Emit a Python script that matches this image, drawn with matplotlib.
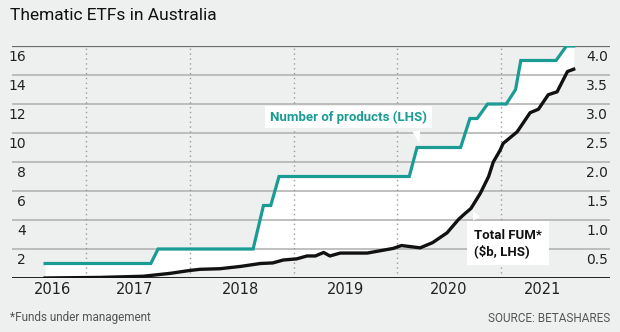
import numpy as np
import matplotlib
matplotlib.use("Agg")
import matplotlib.pyplot as plt
import matplotlib.transforms as mtransforms

# ---- data ----
prod_x = [2016.605, 2017.624, 2017.694, 2018.61, 2018.71, 2018.78, 2018.86, 2020.115, 2020.19,
          2020.61, 2020.70, 2020.77, 2020.87, 2021.05, 2021.14, 2021.19, 2021.53, 2021.63, 2021.70]
prod_n = [1, 1, 2, 2, 5, 5, 7, 7, 9, 9, 11, 11, 12, 12, 13, 15, 15, 16, 16]

fum_x = [2016.605, 2017.135, 2017.55, 2017.81, 2018.00, 2018.10, 2018.29, 2018.49, 2018.68, 2018.80,
         2018.90, 2019.03, 2019.13, 2019.21, 2019.29, 2019.35, 2019.45, 2019.71, 2019.835, 2019.96,
         2020.04, 2020.22, 2020.34, 2020.48, 2020.59, 2020.645, 2020.71, 2020.80, 2020.88, 2020.925,
         2020.99, 2021.02, 2021.155, 2021.28, 2021.36, 2021.455, 2021.54, 2021.64, 2021.70]
fum_b = [0.0, 0.01, 0.03, 0.08, 0.13, 0.15, 0.16, 0.20, 0.25, 0.26,
         0.31, 0.33, 0.38, 0.38, 0.44, 0.38, 0.43, 0.43, 0.47, 0.51,
         0.56, 0.52, 0.61, 0.78, 1.01, 1.10, 1.20, 1.46, 1.75, 2.00,
         2.20, 2.32, 2.52, 2.85, 2.91, 3.16, 3.21, 3.56, 3.60]

left_ticks = [2, 4, 6, 8, 10, 12, 14, 16]
right_ticks = [0.5, 1.0, 1.5, 2.0, 2.5, 3.0, 3.5, 4.0]
year_labels = ["2016", "2017", "2018", "2019", "2020", "2021"]
year_label_pos = [2016.68, 2017.47, 2018.49, 2019.50, 2020.49, 2021.40]
year_bounds = [2017, 2018, 2019, 2020, 2021]

TEAL = "#1a9c94"
BG = "#eeefef"
RATIO = 4.0  # left units per $b on right axis

fig = plt.figure(figsize=(6.2, 3.32), dpi=100, facecolor=BG)
ax = fig.add_axes([12/620, 1-278/332, 598/620, (278-46)/332])
ax.set_facecolor(BG)
ax.set_xlim(2016.286, 2022.05)
ax.set_ylim(0, 16)
for s in ax.spines.values():
    s.set_visible(False)
ax.set_xticks([]); ax.set_yticks([])

fum_l = np.array(fum_b) * RATIO
xg = np.union1d(prod_x, fum_x)
p_i = np.interp(xg, prod_x, prod_n)
f_i = np.interp(xg, fum_x, fum_l)
ax.fill_between(xg, f_i, p_i, color="white", lw=0, zorder=1)

for v in left_ticks[:-1]:
    ax.axhline(v, color="#b4b4b4", lw=1.2, zorder=2)
ax.axhline(16, color="#6a6a6a", lw=1.6, zorder=2)
for yb in year_bounds:
    ax.plot([yb, yb], [0, 16], color="#9a9a9a", lw=1.0, ls=(0, (1, 2.5)), zorder=2)
ax.axhline(0, color="#111111", lw=1.3, zorder=5)

ax.plot(prod_x, prod_n, color=TEAL, lw=2.3, zorder=4, solid_joinstyle="miter")
ax.plot(fum_x, fum_l, color="#111111", lw=2.4, zorder=4)

trans = mtransforms.blended_transform_factory(ax.transAxes, ax.transData)
for v in left_ticks:
    ax.text(14/598, v - 0.78, str(v), transform=trans, ha="right", va="center",
            fontsize=10, color="#222222", family="DejaVu Sans")
for v in right_ticks:
    ax.text(596/598, v*RATIO - 0.78, f"{v:.1f}", transform=trans, ha="right", va="center",
            fontsize=10, color="#222222", family="DejaVu Sans")

for lab, xp in zip(year_labels, year_label_pos):
    ax.text(xp, -0.8, lab, ha="center", va="center", fontsize=10.5, color="#222222",
            family="DejaVu Sans")

ax.annotate("Number of products (LHS)", xy=(2020.22, 9.1), xytext=(2019.53, 11.1),
            ha="center", va="center", fontsize=9.5, fontweight="bold", color=TEAL,
            family=["Roboto", "DejaVu Sans"],
            bbox=dict(boxstyle="square,pad=0.35", fc="white", ec="none"),
            arrowprops=dict(arrowstyle="wedge,tail_width=0.6,shrink_factor=0.5", fc="white",
                            ec="none", relpos=(0.92, 0.0)),
            zorder=6)
ax.annotate("Total FUM*\n($b, LHS)", xy=(2020.72, 4.8), xytext=(2020.74, 2.4),
            ha="left", va="center", fontsize=9.5, fontweight="bold", color="#111111",
            family=["Roboto", "DejaVu Sans"], linespacing=1.2,
            bbox=dict(boxstyle="square,pad=0.55", fc="white", ec="none"),
            arrowprops=dict(arrowstyle="wedge,tail_width=0.6,shrink_factor=0.5", fc="white",
                            ec="none", relpos=(0.1, 1.0)),
            zorder=6)

fig.text(10/620, 1-16/332, "Thematic ETFs in Australia", ha="left", va="center",
         fontsize=12.5, color="#111111", family=["Roboto", "DejaVu Sans"])
fig.text(10/620, 1-318/332, "*Funds under management", ha="left", va="center",
         fontsize=8.5, color="#555555", family=["Roboto", "DejaVu Sans"])
fig.text(610/620, 1-318/332, "SOURCE: BETASHARES", ha="right", va="center",
         fontsize=8.5, color="#555555", family=["Roboto", "DejaVu Sans"])

fig.savefig("out.png", dpi=100, facecolor=BG)
